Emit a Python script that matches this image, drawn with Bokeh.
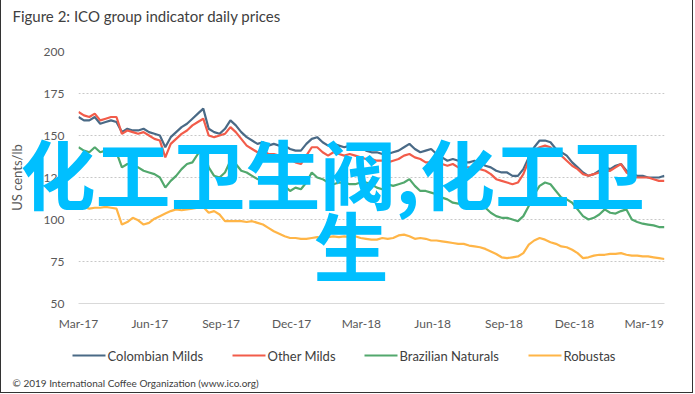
import pandas as pd
from datetime import datetime
from bokeh.plotting import figure
from bokeh.models import Range1d, FixedTicker, ColumnDataSource
from bokeh.embed import file_html
from bokeh.resources import INLINE
from bokeh.core.properties import value

# ---------------- data ----------------
title_text = "Figure 2: ICO group indicator daily prices"
y_label = "US cents/lb"
copyright_text = "\u00a9 2019 International Coffee Organization (www.ico.org)"
watermark_line1 = "化工卫生阀,化工卫"
watermark_line2 = "生"

series_names = ["Colombian Milds", "Other Milds", "Brazilian Naturals", "Robustas"]
series_colors = ["#4A6A86", "#F25C4A", "#52A86D", "#FFB547"]

first_week = "2017-03-01"   # weekly readings from this date

colombian = [161, 159, 159, 161, 157, 158, 159, 158, 152, 154,
             153, 153, 154, 152, 151, 150, 143, 149, 152, 155,
             157, 160, 163, 166, 154, 152, 151, 154, 159, 156,
             152, 149, 147, 145, 146, 144, 145, 144, 144, 142,
             141, 141, 145, 148, 149, 146, 144, 145, 144, 143,
             144, 142, 143, 141, 140, 140, 139, 139, 140, 141,
             143, 145, 142, 140, 141, 142, 139, 137, 135, 136,
             135, 134, 134, 135, 134, 132, 131, 129, 128, 128,
             126, 126, 130, 137, 143, 147, 147, 146, 142, 140,
             138, 134, 131, 128, 126, 127, 129, 131, 130, 132,
             133, 129, 127, 126, 126, 125, 125, 125, 126]

other_milds = [164, 162, 161, 163, 159, 160, 161, 161, 151, 153,
               152, 151, 152, 150, 148, 147, 137, 145, 148, 151,
               153, 156, 158, 160, 150, 149, 150, 151, 155, 152,
               148, 144, 142, 140, 141, 139, 139, 138, 138, 136,
               134, 133, 138, 143, 143, 140, 138, 140, 139, 138,
               139, 138, 137, 136, 136, 135, 135, 134, 135, 136,
               138, 139, 137, 136, 134, 134, 134, 133, 132, 133,
               131, 131, 131, 130, 130, 129, 127, 124, 123, 122,
               121, 122, 127, 135, 141, 143, 144, 143, 139, 138,
               135, 132, 130, 127, 126, 127, 128, 129, 129, 131,
               133, 128, 126, 125, 125, 125, 124, 123, 123]

brazilian = [143, 141, 140, 143, 140, 141, 141, 140, 131, 133,
             132, 131, 129, 128, 127, 125, 119, 123, 126, 130,
             133, 134, 139, 142, 131, 126, 125, 128, 135, 133,
             129, 128, 126, 124, 125, 123, 122, 121, 120, 117,
             119, 118, 122, 128, 125, 124, 122, 121, 122, 122,
             121, 121, 122, 122, 121, 119, 118, 121, 120, 121,
             122, 124, 120, 117, 117, 116, 115, 113, 112, 110,
             109.5, 109.5, 110, 110, 109, 107, 104, 102, 101, 101,
             100, 99, 102, 108, 115, 120, 122, 121, 117, 113,
             112, 110, 106, 102, 100, 101, 103, 106, 104, 103.5,
             105, 106, 100, 98.5, 97.5, 97, 96.5, 95.5, 95.5]

robustas = [107.5, 107.5, 106.5, 107, 107, 107.5, 107, 106.5, 97, 98.5,
            101, 99.5, 97, 98, 100.5, 102, 103.5, 105, 106, 105.5,
            106, 106.5, 107, 107.5, 104, 105, 103, 99, 99, 99,
            99, 98.5, 99, 98, 97, 95, 93, 91.5, 90, 89,
            89, 88.5, 88.5, 89, 89.5, 89, 89.5, 90, 89.5, 90,
            89.5, 90, 89, 88.5, 88, 88, 89, 88.5, 89, 90.5,
            91, 90, 88.5, 89, 88.5, 87.5, 87.5, 87, 86.5, 86,
            85.5, 85.5, 84.5, 84, 83.5, 82.5, 81, 79.5, 77.5, 77,
            77.5, 78, 80, 85, 87.5, 89, 88, 86.5, 85.5, 84,
            83.5, 82, 80, 77, 77.5, 78.5, 79, 79, 79.5, 79.5,
            80, 79, 78.5, 78.5, 78, 78, 77.5, 77, 76.5]

tick_dates = ["2017-03-01", "2017-06-01", "2017-09-01", "2017-12-01", "2018-03-01",
              "2018-06-01", "2018-09-01", "2018-12-01", "2019-03-01"]
tick_labels = ["Mar-17", "Jun-17", "Sep-17", "Dec-17", "Mar-18",
               "Jun-18", "Sep-18", "Dec-18", "Mar-19"]
y_ticks = [50, 75, 100, 125, 150, 175, 200]

# ---------------- layout (canvas pixels) ----------------
W, H = 693, 393
ML, MR, MT, MB = 77, 30, 51, 90
FW, FH = W - ML - MR, H - MT - MB
legend_key_left = [71, 231, 363, 527]   # left end of each legend key line
legend_key_len = 33
legend_row_y = 355

x_start = datetime(2017, 3, 1)
x_end = datetime(2019, 3, 27, 3)
y_start, y_end = 50, 200

x0_ms = pd.Timestamp(x_start).value / 1e6
x1_ms = pd.Timestamp(x_end).value / 1e6


def sx(px):   # canvas pixel -> data x (for free-floating texts / legend keys)
    return x0_ms + (px - ML) / FW * (x1_ms - x0_ms)


def sy(py):   # canvas pixel -> data y
    return y_end - (py - MT) / FH * (y_end - y_start)


dates = pd.date_range(first_week, periods=len(colombian), freq="7D")
series_values = [colombian, other_milds, brazilian, robustas]

p = figure(width=W, height=H, x_axis_type="datetime",
           output_backend="svg", toolbar_location=None,
           x_range=Range1d(x_start, x_end), y_range=Range1d(y_start, y_end),
           min_border_left=ML, min_border_right=MR,
           min_border_top=MT, min_border_bottom=MB)
p.outline_line_color = None
p.background_fill_color = "white"
p.border_fill_color = "white"
p.styles = {"border-left": "1px solid #333", "border-right": "1px solid #333",
            "border-bottom": "1px solid #333"}

for name, vals, col in zip(series_names, series_values, series_colors):
    src = ColumnDataSource(dict(x=dates, y=vals))
    p.line("x", "y", source=src, line_color=col, line_width=2.2)

tick_ms = [int(pd.Timestamp(d).value // 10**6) for d in tick_dates]
p.xaxis.ticker = FixedTicker(ticks=tick_ms)
p.xaxis.major_label_overrides = {ms: lbl for ms, lbl in zip(tick_ms, tick_labels)}
p.xgrid.visible = False
p.yaxis.ticker = FixedTicker(ticks=y_ticks)
p.ygrid.ticker = FixedTicker(ticks=y_ticks)
p.ygrid.grid_line_color = "#c8c8c8"
p.ygrid.grid_line_dash = "2 2"
p.ygrid.grid_line_width = 1

for ax in (p.xaxis[0], p.yaxis[0]):
    ax.major_tick_line_color = None
    ax.minor_tick_line_color = None
    ax.major_tick_out = 0
    ax.major_tick_in = 0
    ax.minor_tick_out = 0
    ax.major_label_text_font = "Lato"
    ax.major_label_text_font_size = "12px"
    ax.major_label_text_color = "#595959"

p.xaxis.axis_line_color = "#d9d9d9"
p.xaxis.major_label_standoff = 12
p.yaxis.axis_line_color = None
p.yaxis.major_label_standoff = 14
p.yaxis.axis_label = y_label
p.yaxis.axis_label_text_font = "Lato"
p.yaxis.axis_label_text_font_style = "normal"
p.yaxis.axis_label_text_font_size = "13px"
p.yaxis.axis_label_text_color = "#595959"
p.yaxis.axis_label_standoff = 16

# legend row (keys + labels), drawn on the overlay level below the frame
key_x0 = [sx(v) for v in legend_key_left]
key_x1 = [sx(v + legend_key_len) for v in legend_key_left]
key_lbl = [sx(v + legend_key_len + 2) for v in legend_key_left]
key_y = [sy(legend_row_y)] * len(series_names)
p.segment(x0=key_x0, y0=key_y, x1=key_x1, y1=key_y, color=series_colors,
          line_width=2.2, level="overlay")
p.text(x=key_lbl, y=key_y, text=series_names, level="overlay",
       text_font=value("Lato"), text_font_size="13px", text_color="#404040",
       text_baseline="middle", text_align="left")

# title and source note
p.text(x=[sx(11)], y=[sy(15)], text=[title_text], level="overlay",
       text_font=value("Lato"), text_font_size="15px", text_color="#404040",
       text_baseline="middle", text_align="left")
p.text(x=[sx(11)], y=[sy(382)], text=[copyright_text], level="overlay",
       text_font=value("Lato"), text_font_size="10px", text_color="#404040",
       text_baseline="middle", text_align="left")

# overlay watermark text
p.text(x=[sx(19), sx(312)], y=[sy(171), sy(243)], text=[watermark_line1, watermark_line2],
       level="overlay", text_font=value("Noto Sans CJK SC"), text_font_size="75px",
       text_font_style="bold", text_color="#00BFFF",
       text_baseline="middle", text_align="left")

open("out.html", "w").write(file_html(p, INLINE))
